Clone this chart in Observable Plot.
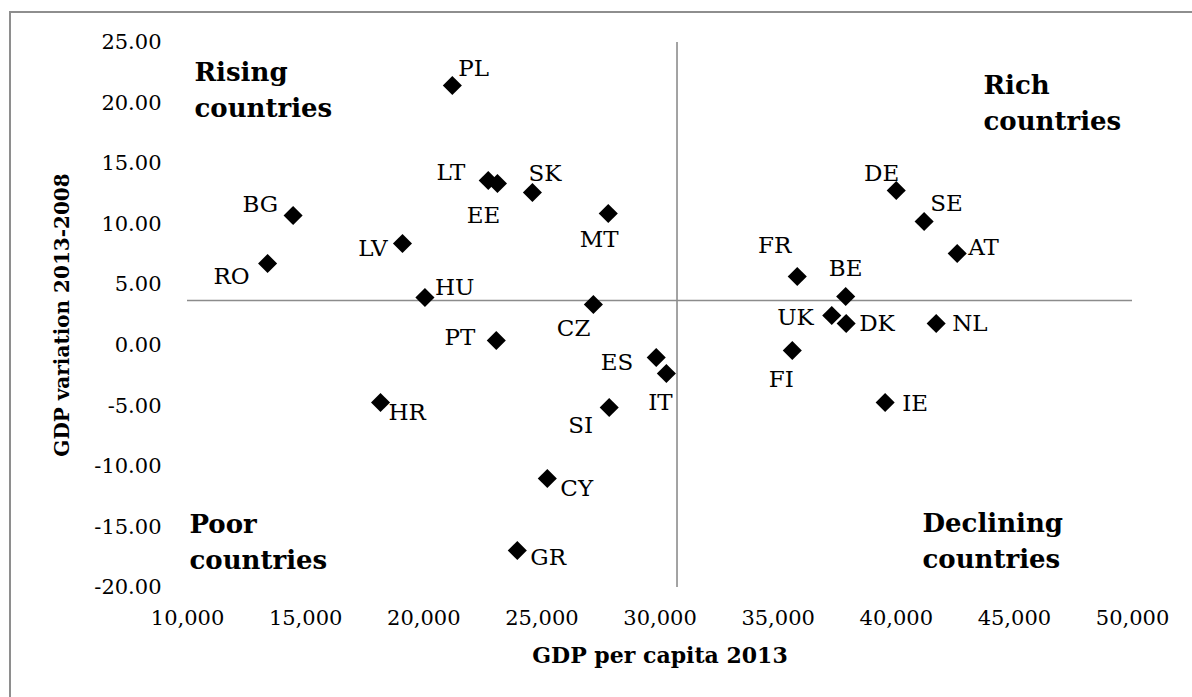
<!DOCTYPE html>
<html><head><meta charset="utf-8">
<script src="https://cdn.jsdelivr.net/npm/d3@7"></script>
<script src="https://cdn.jsdelivr.net/npm/@observablehq/plot@0.6"></script>
<style>
html,body{margin:0;padding:0;background:#fff;overflow:hidden}
#wrap{position:relative;width:1192px;height:697px;overflow:hidden}
#border{position:absolute;left:9px;top:11px;width:1300px;height:800px;border-left:2px solid #8e8e8e;border-top:2px solid #8e8e8e}
#chart{position:absolute;left:0;top:0}
</style></head><body>
<div id="wrap"><div id="border"></div><div id="chart"></div></div>
<script>
const countries = ["PL","LT","EE","SK","MT","HU","CZ","PT","BG","RO","LV","HR","ES","IT","SI","CY","GR","FR","FI","UK","DK","NL","BE","DE","SE","AT","IE"];
const gdpPerCapita2013 = [21210,22730,23120,24600,27810,20050,27180,23070,14470,13390,19100,18170,29840,30270,27850,25230,23960,35810,35600,37270,37880,41690,37860,40000,41180,42580,39530];
const gdpVariation2013_2008 = [21.45,13.61,13.36,12.61,10.88,3.94,3.37,0.40,10.72,6.75,8.40,-4.72,-1.01,-2.33,-5.14,-11.00,-16.95,5.68,-0.43,2.46,1.80,1.80,4.03,12.78,10.22,7.58,-4.72];
const xTicks = [10000,15000,20000,25000,30000,35000,40000,45000,50000];
const yTicks = [-20,-15,-10,-5,0,5,10,15,20,25];
const xDomain = [10000, 50000];
const yDomain = [-20, 25];
const averageGdpPerCapita = 30720;
const averageVariation = 3.70;
const quadrantLabels = ["Rising\ncountries","Rich\ncountries","Poor\ncountries","Declining\ncountries"];
const xTitle = "GDP per capita 2013";
const yTitle = "GDP variation 2013-2008";

const data = countries.map((c, i) => ({country: c, gdp: gdpPerCapita2013[i], variation: gdpVariation2013_2008[i]}));

// label placement (anchor, dx, dy) relative to each marker
const labelPlacement = {
  PL:["start",6,-17], LT:["end",-23,-8], EE:["middle",-14,32], SK:["start",-4,-19],
  MT:["middle",-9,26], HU:["start",10,-10], CZ:["end",-3,24], PT:["end",-21,-3],
  BG:["end",-15,-11], RO:["end",-18,13], LV:["end",-15,5], HR:["start",8,10],
  ES:["end",-23,5], IT:["middle",-6,29], SI:["end",-16,18], CY:["start",13,10],
  GR:["start",13,7], FR:["end",-6,-31], FI:["middle",-11,29], UK:["end",-18,2],
  DK:["start",13,0], NL:["start",16,0], BE:["middle",0,-28], DE:["end",3,-17],
  SE:["start",6,-18], AT:["start",11,-6], IE:["start",17,1]
};

const qStyle = {text: d => d, textAnchor: "start", lineAnchor: "middle", fontSize: 26, fontWeight: "bold", lineHeight: 1.385, fill: "#000"};

const chart = Plot.plot({
  width: 1192, height: 697,
  marginLeft: 187, marginRight: 60, marginTop: 42, marginBottom: 110,
  style: {fontFamily: "'DejaVu Serif', serif", fontSize: "21px", color: "#000", background: "transparent", overflow: "visible"},
  x: {domain: xDomain},
  y: {domain: yDomain},
  marks: [
    Plot.ruleX([averageGdpPerCapita], {y1: yDomain[0], y2: yDomain[1], stroke: "#8c8c8c", strokeWidth: 1.6}),
    Plot.ruleY([averageVariation], {x1: xDomain[0], x2: xDomain[1], stroke: "#8c8c8c", strokeWidth: 1.6}),
    Plot.axisX(xTicks, {tickSize: 0, tickPadding: 23, tickFormat: d3.format(","), label: null, fontSize: 21}),
    Plot.axisY(yTicks, {tickSize: 0, tickPadding: 26, tickFormat: d => d.toFixed(2), label: null, fontSize: 21}),
    Plot.dot(data, {x: "gdp", y: "variation", symbol: "diamond2", r: 8.6, fill: "#000", stroke: "none"}),
    ...data.map(d => {
      const [anchor, dx, dy] = labelPlacement[d.country];
      return Plot.text([d], {x: "gdp", y: "variation", text: "country", textAnchor: anchor, lineAnchor: "middle", dx, dy, fontSize: 23, fill: "#000"});
    }),
    Plot.text([quadrantLabels[0]], {...qStyle, frameAnchor: "top-left", dx: 7, dy: 45}),
    Plot.text([quadrantLabels[1]], {...qStyle, frameAnchor: "top-right", dx: -149, dy: 58}),
    Plot.text([quadrantLabels[2]], {...qStyle, frameAnchor: "bottom-left", dx: 2, dy: -48}),
    Plot.text([quadrantLabels[3]], {...qStyle, frameAnchor: "bottom-right", dx: -210, dy: -49}),
    Plot.text([xTitle], {frameAnchor: "bottom", text: d => d, textAnchor: "middle", lineAnchor: "middle", dy: 68, fontSize: 22, fontWeight: "bold", fill: "#000"}),
    Plot.text([yTitle], {frameAnchor: "left", text: d => d, textAnchor: "middle", lineAnchor: "middle", rotate: -90, dx: -125, fontSize: 20, fontWeight: "bold", fill: "#000"})
  ]
});
document.getElementById("chart").appendChild(chart);
</script>
</body></html>
